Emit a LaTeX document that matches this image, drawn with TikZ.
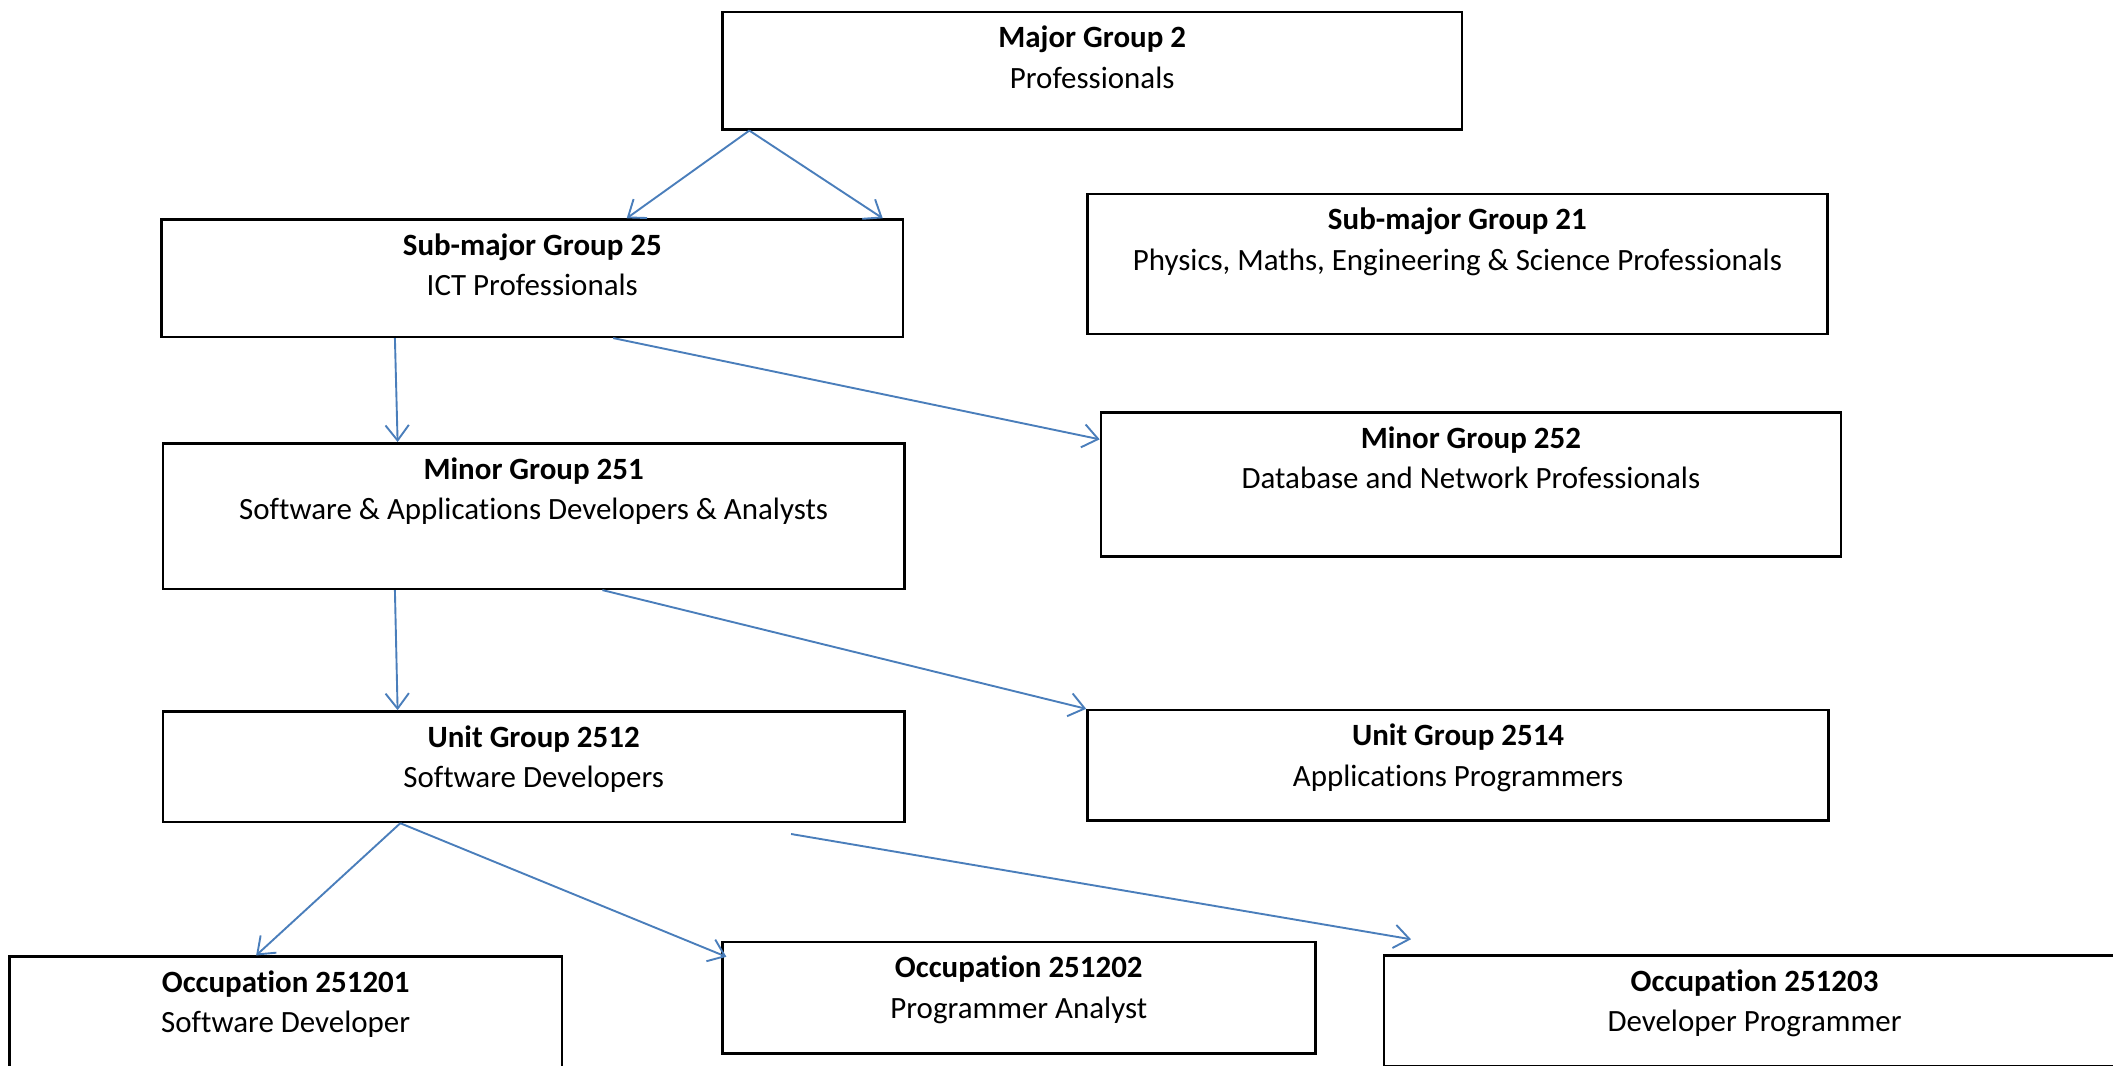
\documentclass[tikz,border=0pt]{standalone}
\usepackage{fontspec}
\setmainfont{Carlito}[Ligatures=NoCommon]
\usetikzlibrary{arrows.meta}
\definecolor{linkblue}{HTML}{4A7EBB}

\begin{document}
\begin{tikzpicture}[x=0.015cm,y=-0.015cm,
    grpsty/.style={draw,line width=0.8pt,align=center,anchor=north,inner sep=0pt,
      text height=.8475cm,font=\fontsize{9.8}{12.8}\selectfont},
    linksty/.style={color=linkblue,line width=0.6pt,-{Straight Barb[length=.17cm,width=.26cm]}}]
  \clip (0,0) rectangle (1568,791);
  % grupo principal
  \node[grpsty,minimum width=8.235cm,text depth=.4575cm] (major) at (810.5,8)
    {\textbf{Major Group 2}\\Professionals};
  % subgrupos
  \node[grpsty,minimum width=8.25cm,text depth=.4575cm] (sub25) at (395,162)
    {\textbf{Sub-major Group 25}\\ICT Professionals};
  \node[grpsty,minimum width=8.235cm,text depth=.7125cm] (sub21) at (1081.5,143)
    {\textbf{Sub-major Group 21}\\Physics, Maths, Engineering \& Science Professionals};
  \node[grpsty,minimum width=8.25cm,text depth=.7725cm] (minor251) at (396,328)
    {\textbf{Minor Group 251}\\Software \& Applications Developers \& Analysts};
  \node[grpsty,minimum width=8.235cm,text depth=.7575cm] (minor252) at (1091.5,305)
    {\textbf{Minor Group 252}\\Database and Network Professionals};
  \node[grpsty,minimum width=8.25cm,text depth=.3825cm] (unit2512) at (396,527)
    {\textbf{Unit Group 2512}\\Software Developers};
  \node[grpsty,minimum width=8.25cm,text depth=.3825cm] (unit2514) at (1082,526)
    {\textbf{Unit Group 2514}\\Applications Programmers};
  % ocupacoes
  \node[grpsty,minimum width=6.15cm,text depth=.5025cm] (occ1) at (212,709)
    {\textbf{Occupation 251201}\\Software Developer};
  \node[grpsty,minimum width=6.6cm,text depth=.3975cm] (occ2) at (756,698)
    {\textbf{Occupation 251202}\\Programmer Analyst};
  \node[grpsty,minimum width=8.25cm,text depth=.3825cm] (occ3) at (1302,708)
    {\textbf{Occupation 251203}\\Developer Programmer};

  % ligacoes
  \draw[linksty] ([shift={(21,0)}]major.south west) -- ([shift={(346,0)}]sub25.north west);
  \draw[linksty] ([shift={(21,0)}]major.south west) -- ([shift={(536,0)}]sub25.north west);
  \draw[linksty] ([shift={(174,0)}]sub25.south west) -- ([shift={(175,0)}]minor251.north west);
  \draw[linksty] ([shift={(336,0)}]sub25.south west) -- ([shift={(0,21)}]minor252.north west);
  \draw[linksty] ([shift={(173,0)}]minor251.south west) -- ([shift={(175,0)}]unit2512.north west);
  \draw[linksty] ([shift={(327,0)}]minor251.south west) -- (unit2514.north west);
  \draw[linksty] ([shift={(177,0)}]unit2512.south west) -- ([shift={(184,0)}]occ1.north west);
  \draw[linksty] ([shift={(177,0)}]unit2512.south west) -- ([shift={(4,12)}]occ2.north west);
  \coordinate (free0) at ([shift={(467,8)}]unit2512.south west);
  \coordinate (free1) at ([shift={(21,-11)}]occ3.north west);
  \draw[linksty] (free0) -- (free1);
\end{tikzpicture}
\end{document}
